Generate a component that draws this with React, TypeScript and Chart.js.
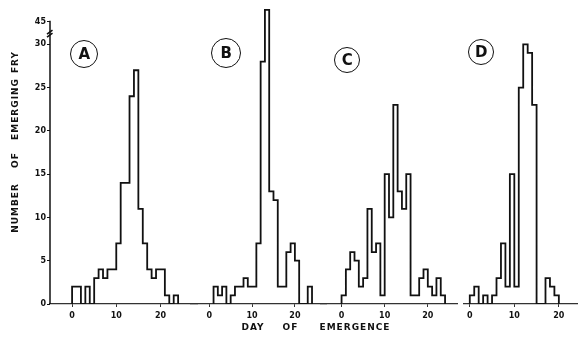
import React, { useEffect, useRef } from 'react';
import { Chart, LinearScale, registerables } from 'chart.js';

Chart.register(...registerables);

// ---------- data ----------
const dayTicks = [0, 10, 20];
const countTicks = [0, 5, 10, 15, 20, 25, 30, 45];

const firstDayA = 0;
const countsA = [2, 2, 0, 2, 0, 3, 4, 3, 4, 4, 7, 14, 14, 24, 27, 11, 7, 4, 3, 4, 4, 1, 0, 1];
const firstDayB = 1;
const countsB = [2, 1, 2, 0, 1, 2, 2, 3, 2, 2, 7, 28, 53, 13, 12, 2, 2, 6, 7, 5, 0, 0, 2];
const firstDayC = 0;
const countsC = [1, 4, 6, 5, 2, 3, 11, 6, 7, 1, 15, 10, 23, 13, 11, 15, 1, 1, 3, 4, 2, 1, 3, 1];
const firstDayD = 0;
const countsD = [1, 2, 0, 1, 0, 1, 3, 7, 2, 15, 2, 25, 30, 29, 23, 0, 0, 3, 2, 1];

const panelLabels = ['A', 'B', 'C', 'D'];
const yTitleWords = ['NUMBER', 'OF', 'EMERGING', 'FRY'];
const xTitleWords = ['DAY', 'OF', 'EMERGENCE'];

// ---------- broken y axis (30 -> 45 compressed) ----------
const BREAK_AT = 30;
const BREAK_RATIO = 0.1733;
const fwd = (v: number) => (v <= BREAK_AT ? v : BREAK_AT + (v - BREAK_AT) * BREAK_RATIO);
const inv = (m: number) => (m <= BREAK_AT ? m : BREAK_AT + (m - BREAK_AT) / BREAK_RATIO);

class BrokenLinearScale extends LinearScale {
  static id = 'brokenLinear';
  static defaults = {};
  getPixelForValue(value: any) {
    if (value === null || value === undefined) return NaN;
    const a = fwd(this.min);
    const b = fwd(this.max);
    return this.getPixelForDecimal((fwd(value) - a) / (b - a));
  }
  getValueForPixel(pixel: number) {
    const a = fwd(this.min);
    const b = fwd(this.max);
    return inv(a + this.getDecimalForPixel(pixel) * (b - a));
  }
}
Chart.register(BrokenLinearScale as any);

// ---------- style / layout ----------
const W = 578;
const H = 338;
const INK = '#111';
const FONT = 'DejaVu Sans';

type PanelCfg = {
  firstDay: number;
  counts: number[];
  min: number;
  max: number;
  left: number;
  width: number;
  showY: boolean;
};

const panels: PanelCfg[] = [
  { firstDay: firstDayA, counts: countsA, min: -5, max: 28.5, left: 0, width: 198, showY: true },
  { firstDay: firstDayB, counts: countsB, min: -4.5, max: 27.5, left: 190, width: 137, showY: false },
  { firstDay: firstDayC, counts: countsC, min: -5, max: 27, left: 320, width: 138, showY: false },
  { firstDay: firstDayD, counts: countsD, min: -1.5, max: 24.3, left: 463, width: 115, showY: false },
];

const circlePos = [
  { x: 85, y: 55, r: 15 },
  { x: 227, y: 54, r: 16 },
  { x: 348, y: 61, r: 14 },
  { x: 482, y: 53, r: 14 },
];

const yAxisLinePlugin = {
  id: 'yAxisLine',
  afterDraw(chart: any) {
    const ys = chart.scales.y;
    const ctx = chart.ctx;
    const x = chart.chartArea.left;
    const y0 = ys.getPixelForValue(0);
    const yTop = ys.getPixelForValue(countTicks[countTicks.length - 1]) - 1;
    ctx.save();
    ctx.strokeStyle = INK;
    ctx.lineWidth = 1.5;
    ctx.beginPath();
    ctx.moveTo(x, y0);
    ctx.lineTo(x, yTop);
    ctx.stroke();
    const yb = (ys.getPixelForValue(30) + ys.getPixelForValue(45)) / 2;
    ctx.lineWidth = 1.6;
    ctx.beginPath();
    ctx.moveTo(x - 3, yb + 1);
    ctx.lineTo(x + 2.5, yb - 3);
    ctx.moveTo(x - 3, yb + 4);
    ctx.lineTo(x + 2.5, yb);
    ctx.stroke();
    ctx.restore();
  },
};

function buildConfig(p: PanelCfg): any {
  const pts = [
    { x: p.firstDay, y: 0 },
    ...p.counts.map((c, i) => ({ x: p.firstDay + i, y: c })),
    { x: p.firstDay + p.counts.length, y: 0 },
  ];
  const tickFont = { family: FONT, size: 8, weight: 'bold' };
  return {
    type: 'line',
    data: {
      datasets: [
        {
          data: pts,
          stepped: true,
          borderColor: INK,
          borderWidth: 1.8,
          pointRadius: 0,
          fill: false,
          tension: 0,
        },
      ],
    },
    plugins: p.showY ? [yAxisLinePlugin] : [],
    options: {
      animation: false,
      responsive: false,
      maintainAspectRatio: false,
      events: [],
      layout: { padding: { left: 0, right: 0, top: 8, bottom: 0 } },
      plugins: { legend: { display: false }, tooltip: { enabled: false } },
      scales: {
        x: {
          type: 'linear',
          min: p.min,
          max: p.max,
          afterBuildTicks: (s: any) => {
            s.ticks = dayTicks.map((v) => ({ value: v }));
          },
          afterFit: (s: any) => {
            s.height = 34;
          },
          border: { display: true, color: '#333', width: 1.2 },
          grid: { display: true, drawOnChartArea: false, drawTicks: true, tickLength: 3, color: '#333' },
          ticks: {
            font: tickFont,
            color: INK,
            padding: 4,
            maxRotation: 0,
            autoSkip: false,
            callback: (v: any) => String(v),
          },
        },
        y: {
          type: 'brokenLinear',
          display: p.showY,
          min: 0,
          max: 54.2,
          bounds: 'data',
          afterBuildTicks: (s: any) => {
            s.ticks = countTicks.map((v) => ({ value: v }));
          },
          afterFit: (s: any) => {
            s.width = p.showY ? 50 : 0;
          },
          border: { display: false },
          grid: { display: true, drawOnChartArea: false, drawTicks: true, tickLength: 3, color: INK },
          ticks: {
            font: tickFont,
            color: INK,
            padding: 1,
            autoSkip: false,
            callback: (v: any) => String(v),
          },
        },
      },
    },
  };
}

function Panel({ cfg }: { cfg: PanelCfg }) {
  const ref = useRef<HTMLCanvasElement | null>(null);
  useEffect(() => {
    if (!ref.current) return;
    const chart = new Chart(ref.current, buildConfig(cfg));
    return () => chart.destroy();
  }, [cfg]);
  return (
    <canvas
      ref={ref}
      width={cfg.width}
      height={H}
      style={{
        position: 'absolute',
        left: cfg.left,
        top: 0,
        width: cfg.width,
        height: H,
        pointerEvents: 'none',
      }}
    />
  );
}

const wordStyle = (x: number, y: number, rotate: boolean): React.CSSProperties => ({
  position: 'absolute',
  left: x,
  top: y,
  transform: rotate ? 'translate(-50%, -50%) rotate(-90deg)' : 'translate(-50%, -50%)',
  font: `bold 9px "${FONT}"`,
  letterSpacing: '1px',
  color: INK,
  whiteSpace: 'nowrap',
  lineHeight: '10px',
});

const yWordCenters = [207.5, 160, 109, 62];
const xWordCenters = [253, 290.5, 355];

export default function App() {
  return (
    <div
      style={{
        position: 'fixed',
        left: 0,
        top: 0,
        width: W,
        height: H,
        background: '#fff',
        overflow: 'hidden',
      }}
    >
      {panels.map((p, i) => (
        <Panel key={i} cfg={p} />
      ))}
      {panelLabels.map((lab, i) => {
        const c = circlePos[i];
        return (
          <div
            key={lab}
            style={{
              position: 'absolute',
              left: c.x - c.r,
              top: c.y - c.r,
              width: c.r * 2 - 3.6,
              height: c.r * 2 - 3.6,
              border: `1.8px solid ${INK}`,
              borderRadius: '50%',
              display: 'flex',
              alignItems: 'center',
              justifyContent: 'center',
              font: `bold 15px "${FONT}"`,
              color: INK,
            }}
          >
            {lab}
          </div>
        );
      })}
      {yTitleWords.map((w, i) => (
        <div key={'y' + i} style={wordStyle(15, yWordCenters[i], true)}>
          {w}
        </div>
      ))}
      {xTitleWords.map((w, i) => (
        <div key={'x' + i} style={wordStyle(xWordCenters[i], 327, false)}>
          {w}
        </div>
      ))}
    </div>
  );
}
